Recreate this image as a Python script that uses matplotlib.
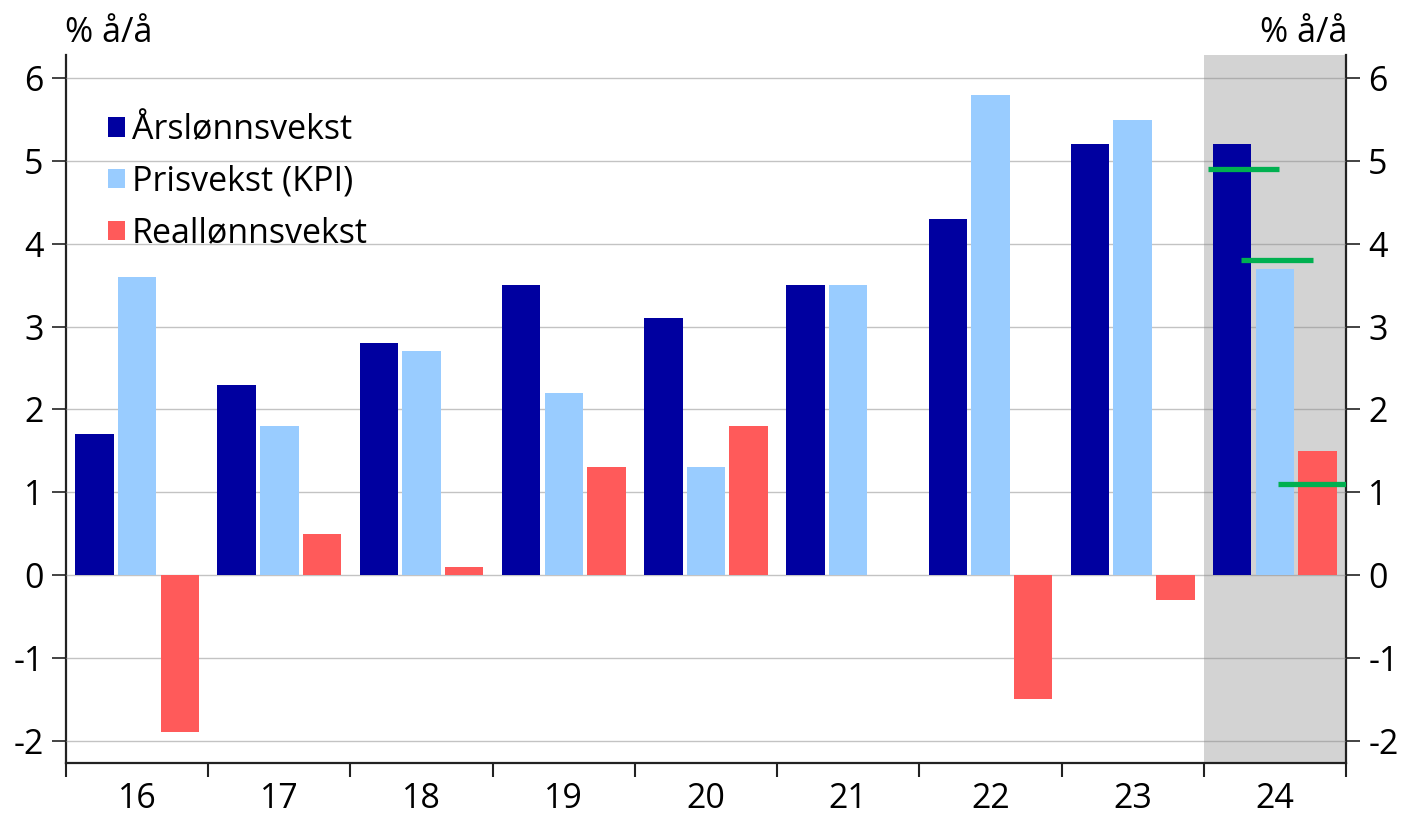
import matplotlib
matplotlib.use("Agg")
import matplotlib.pyplot as plt
import numpy as np

plt.rcParams['font.family'] = ['Open Sans', 'DejaVu Sans']

years = ["16", "17", "18", "19", "20", "21", "22", "23", "24"]
wage_growth = [1.7, 2.3, 2.8, 3.5, 3.1, 3.5, 4.3, 5.2, 5.2]
price_growth = [3.6, 1.8, 2.7, 2.2, 1.3, 3.5, 5.8, 5.5, 3.7]
real_wage_growth = [-1.9, 0.5, 0.1, 1.3, 1.8, 0.0, -1.5, -0.3, 1.5]

# earlier projections for the last year
projection_values = [4.9, 3.8, 1.1]
projection_offsets = [-0.22, 0.015, 0.27]

series_labels = ["Årslønnsvekst", "Prisvekst (KPI)", "Reallønnsvekst"]
colors = ["#0000A0", "#99CCFF", "#FF5A5A"]

FS = 24.5

fig = plt.figure(figsize=(14.04, 8.19), dpi=100)
ax = fig.add_axes([0.047, 0.0684, 0.9117, 0.8644])

x = np.arange(len(years))
width = 0.27
spacing = 0.30

ax.axvspan(len(years) - 1.5, len(years) - 0.5, color="#D3D3D3", zorder=0, lw=0)

for i, (vals, col, lab) in enumerate(zip([wage_growth, price_growth, real_wage_growth], colors, series_labels)):
    ax.bar(x + (i - 1) * spacing, vals, width, color=col, label=lab, zorder=3, linewidth=0)

last = len(years) - 1
for val, off in zip(projection_values, projection_offsets):
    ax.plot([last + off - 0.25, last + off + 0.25], [val, val], color="#00B050",
            lw=3.8, solid_capstyle="butt", zorder=5)

ax.set_xlim(-0.5, len(years) - 0.5)
ax.set_ylim(-2.27, 6.28)
ax.set_yticks(range(-2, 7))
ax.set_yticklabels([str(v) for v in range(-2, 7)])
ax.set_xticks(x)
ax.set_xticklabels(years)
ax.set_xticks(np.arange(-0.5, len(years)), minor=True)
ax.tick_params(axis="x", which="major", length=0, labelsize=FS, pad=14)
ax.tick_params(axis="x", which="minor", length=10, width=1.5, color="#222222")
ax.tick_params(axis="y", length=10, width=1.2, labelsize=FS, color="#222222", pad=6)

ax.grid(axis="y", color="#888888", lw=1.0, alpha=0.5, zorder=1)
ax.set_axisbelow(False)
for gl in ax.get_ygridlines():
    gl.set_zorder(1)

for s in ["left", "right", "bottom"]:
    ax.spines[s].set_linewidth(1.6)
    ax.spines[s].set_color("#222222")
ax.spines["top"].set_visible(False)

ax2 = ax.twinx()
ax2.set_ylim(ax.get_ylim())
ax2.set_yticks(range(-2, 7))
ax2.set_yticklabels([str(v) for v in range(-2, 7)])
ax2.tick_params(axis="y", length=10, width=1.2, labelsize=FS, color="#222222", pad=6)
for s in ["left", "right", "bottom", "top"]:
    ax2.spines[s].set_visible(False)

fig.text(0.046, 0.9487, "% å/å", fontsize=FS, ha="left", va="baseline")
fig.text(0.960, 0.9487, "% å/å", fontsize=FS, ha="right", va="baseline")

leg = ax.legend(loc="upper left", bbox_to_anchor=(0.033, 0.918), frameon=False,
                fontsize=FS, handlelength=0.5, handleheight=0.5, handletextpad=0.2,
                labelspacing=0.52, borderaxespad=0, borderpad=0)

fig.savefig("out.png", dpi=100)
